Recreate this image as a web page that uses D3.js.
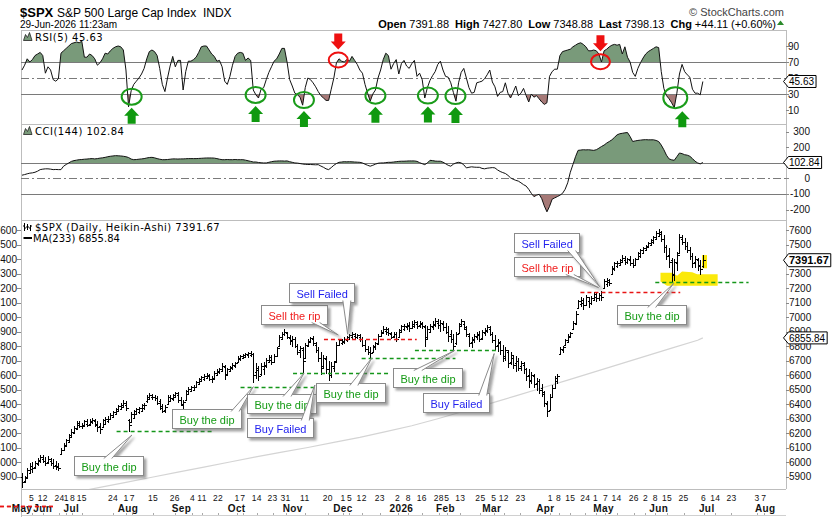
<!DOCTYPE html>
<html>
<head>
<meta charset="utf-8">
<script src="https://cdn.jsdelivr.net/npm/d3@7"></script>
<style>
  body { margin: 0; background: #fff; }
  svg { display: block; font-family: "Liberation Sans", Arial, sans-serif; }
</style>
</head>
<body>
<div id="chart"></div>
<script>
// $SPX daily Heikin-Ashi with RSI(5) and CCI(144) panels
// x is a trading-day index, 0 = first bar on the chart

// Heikin-Ashi bars, [open, high, low, close]
const priceBars = [
  [5900,5925,5820,5860],[5870,5905,5855,5895],[5890,5960,5885,5945],[5925,5990,5915,5975],[5950,6000,5925,5960],[5965,6010,5950,5995],[5985,6030,5975,6015],[6005,6050,5995,6035],[6020,6045,5990,6010],[6010,6035,5975,5995],
  [6000,6040,5985,6020],[6010,6030,5970,5990],[5995,6020,5955,5975],[5980,6005,5945,5965],[5970,5990,5940,5960],[6055,6095,6050,6085],[6085,6130,6080,6120],[6110,6160,6105,6150],[6140,6195,6135,6185],[6170,6225,6165,6210],
  [6200,6245,6190,6235],[6225,6285,6220,6270],[6255,6280,6235,6250],[6250,6270,6225,6255],[6250,6290,6245,6280],[6265,6295,6240,6255],[6260,6300,6250,6285],[6275,6305,6260,6290],[6280,6300,6240,6255],[6265,6285,6210,6240],
  [6250,6270,6195,6225],[6240,6300,6235,6290],[6265,6310,6255,6300],[6285,6320,6270,6295],[6295,6335,6290,6325],[6310,6355,6305,6345],[6330,6375,6325,6365],[6350,6395,6345,6385],[6365,6410,6360,6395],[6380,6425,6375,6410],
  [6395,6420,6355,6370],[6290,6300,6210,6255],[6275,6345,6270,6330],[6305,6360,6300,6350],[6330,6375,6325,6365],[6345,6380,6330,6370],[6355,6400,6350,6390],[6370,6405,6360,6395],[6420,6460,6410,6450],[6435,6475,6430,6465],
  [6450,6470,6425,6445],[6445,6465,6420,6440],[6440,6455,6390,6410],[6420,6435,6360,6375],[6385,6400,6335,6355],[6360,6395,6340,6380],[6400,6460,6395,6450],[6420,6465,6415,6440],[6435,6470,6420,6460],[6450,6485,6440,6475],
  [6460,6480,6410,6430],[6430,6445,6385,6400],[6395,6425,6360,6415],[6430,6500,6425,6490],[6470,6515,6465,6505],[6490,6525,6480,6515],[6500,6530,6490,6520],[6515,6560,6510,6550],[6540,6580,6535,6570],[6560,6595,6550,6585],
  [6570,6605,6560,6595],[6580,6615,6570,6600],[6590,6610,6560,6575],[6575,6590,6545,6570],[6580,6625,6575,6615],[6600,6640,6595,6630],[6620,6650,6610,6640],[6630,6680,6625,6665],[6655,6670,6565,6600],[6610,6650,6600,6640],
  [6630,6665,6620,6655],[6645,6680,6635,6670],[6660,6690,6650,6680],[6690,6730,6685,6720],[6710,6740,6700,6730],[6720,6745,6710,6735],[6725,6755,6715,6745],[6735,6760,6720,6750],[6740,6765,6725,6745],[6745,6755,6545,6600],
  [6620,6680,6570,6650],[6635,6665,6560,6590],[6610,6680,6590,6665],[6640,6690,6600,6670],[6660,6720,6650,6705],[6690,6740,6680,6725],[6705,6735,6670,6690],[6690,6745,6680,6730],[6730,6795,6725,6785],[6800,6875,6795,6860],
  [6850,6900,6840,6885],[6880,6915,6870,6900],[6890,6900,6845,6860],[6855,6875,6810,6835],[6840,6870,6795,6850],[6845,6860,6785,6800],[6800,6815,6740,6760],[6770,6800,6720,6785],[6770,6790,6615,6700],[6720,6820,6710,6810],
  [6800,6850,6795,6835],[6830,6865,6820,6855],[6850,6870,6800,6820],[6810,6830,6750,6770],[6770,6790,6690,6720],[6720,6760,6600,6650],[6660,6740,6640,6720],[6710,6730,6610,6640],[6640,6700,6560,6600],[6600,6690,6580,6660],
  [6650,6700,6620,6690],[6700,6830,6695,6810],[6810,6850,6800,6840],[6820,6850,6805,6835],[6830,6860,6815,6845],[6840,6870,6825,6860],[6850,6885,6840,6875],[6865,6895,6845,6880],[6870,6890,6840,6865],[6860,6885,6845,6875],
  [6865,6880,6830,6850],[6850,6860,6790,6810],[6810,6840,6760,6780],[6780,6800,6740,6760],[6760,6790,6715,6750],[6760,6810,6755,6800],[6790,6830,6775,6820],[6815,6880,6810,6870],[6870,6910,6860,6900],[6890,6935,6880,6920],
  [6905,6930,6875,6915],[6900,6925,6870,6890],[6885,6900,6845,6865],[6870,6895,6855,6885],[6880,6900,6830,6850],[6860,6920,6855,6910],[6900,6945,6895,6935],[6920,6950,6905,6940],[6930,6960,6910,6945],[6935,6965,6900,6925],
  [6925,6970,6915,6955],[6940,6980,6925,6965],[6950,6975,6920,6940],[6945,6970,6925,6960],[6950,6965,6920,6935],[6930,6945,6795,6850],[6860,6935,6850,6920],[6900,6950,6890,6940],[6930,6970,6910,6955],[6945,6990,6930,6975],
  [6960,6985,6920,6945],[6945,6980,6900,6960],[6950,6975,6905,6930],[6930,6960,6880,6900],[6900,6940,6830,6870],[6880,6910,6820,6850],[6850,6880,6775,6800],[6820,6900,6810,6880],[6890,6960,6885,6950],[6940,6985,6930,6970],
  [6955,6975,6910,6930],[6920,6940,6860,6880],[6870,6890,6790,6820],[6830,6860,6785,6845],[6840,6880,6820,6870],[6860,6895,6840,6880],[6875,6905,6830,6850],[6855,6910,6840,6895],[6890,6925,6870,6910],[6905,6945,6890,6930],
  [6915,6935,6870,6880],[6880,6895,6820,6840],[6840,6875,6770,6800],[6810,6850,6760,6830],[6820,6835,6740,6770],[6775,6805,6690,6720],[6730,6790,6700,6770],[6760,6775,6650,6680],[6690,6760,6670,6740],[6720,6740,6640,6670],
  [6680,6730,6620,6700],[6700,6720,6630,6650],[6660,6700,6630,6680],[6670,6690,6610,6640],[6640,6650,6560,6590],[6600,6640,6510,6560],[6565,6620,6540,6600],[6590,6610,6510,6540],[6545,6580,6490,6560],[6560,6570,6470,6500],
  [6510,6540,6450,6480],[6470,6490,6380,6410],[6400,6420,6310,6350],[6360,6470,6350,6450],[6450,6530,6440,6510],[6510,6590,6505,6580],[6560,6605,6540,6595],[6745,6790,6740,6780],[6770,6800,6755,6790],[6805,6850,6800,6840],
  [6830,6880,6825,6870],[6860,6900,6855,6890],[6920,6970,6915,6960],[6950,7040,6945,7020],[7060,7120,7055,7110],[7090,7140,7070,7120],[7100,7130,7050,7080],[7085,7150,7080,7140],[7110,7135,7060,7100],[7100,7145,7085,7130],
  [7120,7175,7110,7160],[7140,7170,7105,7130],[7130,7165,7110,7155],[7150,7180,7110,7140],[7200,7265,7195,7250],[7230,7270,7210,7255],[7240,7265,7215,7235],[7300,7350,7295,7340],[7330,7380,7320,7370],[7355,7385,7340,7375],
  [7360,7400,7350,7390],[7380,7425,7370,7410],[7395,7420,7360,7380],[7380,7410,7365,7400],[7390,7420,7350,7370],[7370,7400,7335,7360],[7360,7410,7355,7400],[7400,7450,7395,7440],[7420,7470,7410,7460],[7440,7485,7435,7475],
  [7465,7500,7455,7490],[7480,7520,7475,7510],[7500,7540,7495,7530],[7515,7560,7505,7550],[7540,7590,7530,7580],[7560,7610,7550,7585],[7575,7595,7520,7540],[7540,7565,7440,7480],[7480,7500,7390,7420],[7430,7475,7340,7380],
  [7390,7410,7232,7290],[7300,7400,7250,7380],[7370,7450,7315,7430],[7440,7570,7435,7550],[7540,7565,7500,7520],[7520,7545,7465,7490],[7490,7520,7440,7460],[7460,7480,7390,7420],[7420,7440,7335,7370],[7380,7420,7340,7400],
  [7390,7410,7320,7350],[7360,7390,7290,7330],[7355,7427,7340,7392]
];

// MA(233), read every 10 trading days
const maIdx = [20,30,40,50,60,70,80,90,100,110,120,130,140,150,160,170,180,190,200,210,220,230,240,250,260,262];
const maVal = [5790,5825,5860,5895,5930,5965,6000,6035,6068,6100,6135,6170,6210,6250,6298,6350,6403,6456,6510,6565,6620,6675,6730,6785,6840,6855.84];

const rsi5 = [
  60,66,74,70,73,78,80,82,78,56, 64,60,48,46,49,81,84,87,90,93,
  94,95,94,96,76,76,80,78,74,66, 69,74,81,80,84,87,89,90,89,85,
  60,14,34,42,46,50,55,62,74,83, 85,83,78,62,42,33,50,65,77,64,
  72,72,35,58,71,71,73,76,82,89, 90,90,85,80,77,71,72,64,46,42,
  52,66,77,81,82,81,72,75,72,35, 29,25,36,38,48,57,64,71,74,80,
  87,87,70,48,40,31,29,26,16,38, 50,48,44,39,33,28,25,22,22,36,
  50,69,74,71,70,73,71,77,72,67, 60,56,42,31,21,30,35,50,60,73,
  81,78,61,68,73,55,68,72,65,62, 68,72,52,56,48,25,38,47,53,58,
  67,71,60,52,51,44,32,21,44,57, 62,50,38,31,32,44,45,46,49,54,
  60,45,39,27,32,33,44,31,25,32, 40,28,31,37,28,20,30,26,28,24,
  20,17,19,52,58,61,61,78,83,84, 85,86,89,91,93,94,92,89,84,84,
  85,84,80,70,84,86,89,91,92,91, 92,80,89,76,70,57,52,62,69,75,
  80,83,85,87,89,88,58,37,28,24, 19,13,31,55,67,58,54,51,36,31,
  31,29,45.63
];

const cci144 = [
  21,25,30,34,36,40,47,57,60,62,62,60,57,58,57,57,
  79,90,100,110,115,118,121,
  122,124,125,127,128,126,128,131,133,136,140,143,145,147,
  146,145,143,140,135,125,121,
  122,124,126,128,132,135,136,133,128,124,121,121,
  122,124,126,126,125,126,126,127,128,128,128,128,
  129,130,131,132,132,132,131,128,124,121,121,
  122,121,121,122,121,121,121,118,114,110,106,106,
  103,101,100,100,104,108,111,112,113,113,112,113,
  108,104,100,99,96,93,91,90,90,89,88,89,
  80,72,62,57,70,85,96,104,
  106,108,107,108,107,106,105,104,100,92,85,79,
  85,92,98,100,100,102,104,104,106,108,110,111,111,112,113,113,
  113,110,102,95,89,100,
  117,115,112,111,111,105,95,85,79,
  92,100,104,100,88,68,72,75,73,72,
  72,65,62,66,68,70,68,55,45,38,
  32,20,4,-5,-12,-17,-28,-40,-49,-70,-96,
  -117,-108,-102,-130,-177,-215,-180,-134,-125,-117,-108,-96,-70,-28,
  40,89,140,181,183,185,184,185,183,181,185,195,
  206,215,228,238,249,265,281,288,291,294,296,270,238,
  242,245,247,249,250,249,249,249,245,238,
  215,185,150,126,120,117,140,164,160,153,150,143,128,111,100,94,102.84
];

// x axis labels (trading-day index, text)
const dayTickIdx = [3.7,8,14.4,17,19.4,23,35,40,42.4,50.4,58.8,65.6,69.3,75.4,82.7,85,90.3,96.4,101.4,108.8,
  117.7,123.5,126,130.7,137.7,144.5,148.6,153.8,160.4,163.5,168.7,176.4,181.5,185.4,191.8,203.3,206.5,211,216.8,220.7,
  224.5,228.8,235.4,239.9,243.7,248.2,254.6,262.3,266.8,273,282.8,285.4];
const dayTickLbl = ["5","12","24","1","8","15","24","1","7","15","26","4","11","22","1","7","14","23","31","11",
  "20","1","5","12","23","2","8","16","28","5","13","25","5","12","23","1","8","15","24","1",
  "7","14","26","2","8","15","25","6","14","23","3","7"];
const monthIdx = [0,8,19,40.8,61.4,82.6,104.2,123.5,146,163,180.8,201.4,223.8,245,263.5,286];
const monthLbl = ["May","Jun","Jul","Aug","Sep","Oct","Nov","Dec","2026","Feb","Mar","Apr","May","Jun","Jul","Aug"];

const priceTicks = d3.range(5900, 7601, 100);
const rsiTicks = [90, 70, 50, 30, 10];
const cciTicks = [300, 200, 100, 0, -100, -200];

// RSI markers [index, rsi]
const buyMarks = [[42.2,26.6],[89.9,28.8],[108.5,22.5],[136,27.9],[156.2,28],[166.8,27.5],[251.4,25.4]];
const sellMarks = [[121.7,72.5],[222.6,70.4]];

// support / resistance dashes [fromIdx, toIdx, price, kind]
const levels = [
  [36.4,73,6214,"buy"],[84.1,113.3,6519,"buy"],[104.3,140.9,6612,"buy"],[130.7,166.8,6715,"buy"],
  [151.2,183.5,6772,"buy"],[116.2,151.9,6848,"sell"],[214.9,253.3,7170,"sell"],[243.7,279.6,7239,"buy"],
  [-8.5,12.7,5699,"sell"]
];

// callouts: box corner (i,p), wedge base index bi, tip (ti,tp)
const notes = [
  {t:"Buy the dip", k:"buy", i:20, p:6041, bi:33, ti:42.3, tp:6186},
  {t:"Buy the dip", k:"buy", i:57.8, p:6363, bi:82, ti:89, tp:6519},
  {t:"Buy the dip", k:"buy", i:86.4, p:6467, bi:102, ti:108.5, tp:6612},
  {t:"Buy Failed", k:"fail", i:86.4, p:6305, bi:109, ti:112.7, tp:6531},
  {t:"Buy the dip", k:"buy", i:113.3, p:6547, bi:127.7, ti:134.5, tp:6715},
  {t:"Sell the rip", k:"sell", i:91.9, p:7083, bi:113, ti:121.7, tp:6876},
  {t:"Sell Failed", k:"fail", i:102.6, p:7237, bi:125, ti:125.3, tp:6881},
  {t:"Buy the dip", k:"buy", i:142.6, p:6650, bi:152.3, ti:166.5, tp:6769},
  {t:"Buy Failed", k:"fail", i:154.3, p:6474, bi:177.3, ti:181.7, tp:6748},
  {t:"Sell the rip", k:"sell", i:189.5, p:7412, bi:210.8, ti:221.9, tp:7202},
  {t:"Sell Failed", k:"fail", i:189.5, p:7581, bi:211.5, ti:222.3, tp:7209},
  {t:"Buy the dip", k:"buy", i:229, p:7083, bi:242.3, ti:250.8, tp:7232}
];

// yellow highlight around the recent low, [index, price]
const hiliteBig = [[245.7,7306],[250.2,7306],[252.1,7285],[254,7313],[257.9,7308],[259.8,7295],[267.7,7295],[267.7,7216],[248.2,7216],[245.7,7244]];
const hiliteLast = [[261.7,7427],[263.6,7427],[263.6,7336],[261.7,7336]];

const colors = {buy: "#149a14", sell: "#f01c1c", fail: "#2323ee"};

// ---------------------------------------------------------------
const W = 834, H = 517;
const L = 21, R = 786;
const rsiTop = 30, cciTop = 124, pxTop = 220, pxBot = 489;

const x = d3.scaleLinear().domain([0, 294]).range([22, 786]);
const yRsi = d3.scaleLinear().domain([0, 100]).range([118, 38]);
const yCci = d3.scaleLinear().domain([-200, 300]).range([209.5, 131.9]);
const yPx = d3.scaleLinear().domain([5900, 7600]).range([476.5, 230]);

const svg = d3.select("#chart").append("svg")
    .attr("width", W).attr("height", H);

const defs = svg.append("defs");
defs.append("filter").attr("id", "shadow")
    .attr("x", "-20%").attr("y", "-20%").attr("width", "150%").attr("height", "160%")
  .append("feDropShadow")
    .attr("dx", 2.5).attr("dy", 2.5).attr("stdDeviation", 1)
    .attr("flood-color", "#666").attr("flood-opacity", 0.6);

function clip(id, y0, y1) {
    defs.append("clipPath").attr("id", id).append("rect")
        .attr("x", L).attr("y", y0).attr("width", R - L).attr("height", y1 - y0);
}
clip("cRsi", rsiTop, cciTop);
clip("cRsiHi", rsiTop, yRsi(70));
clip("cRsiLo", yRsi(30), cciTop);
clip("cCci", cciTop, pxTop);
clip("cCciHi", cciTop, yCci(100));
clip("cCciLo", yCci(-100), pxTop);
clip("cPx", pxTop, pxBot);

// ---- header
svg.append("text").attr("x", 20).attr("y", 16.5)
    .attr("font-size", 13).attr("font-weight", "bold").text("$SPX");
svg.append("text").attr("x", 57).attr("y", 16.5)
    .attr("font-size", 12).text("S&P 500 Large Cap Index  INDX").style("white-space", "pre");
svg.append("text").attr("x", 20).attr("y", 27.5)
    .attr("font-size", 10).text("29-Jun-2026 11:23am");
svg.append("text").attr("x", 784).attr("y", 15.5).attr("text-anchor", "end")
    .attr("font-size", 11).attr("fill", "#444").text("\u00A9 StockCharts.com");

const quote = [["Open","7391.88"],["High","7427.80"],["Low","7348.88"],["Last","7398.13"],["Chg","+44.11 (+0.60%)"]];
const qt = svg.append("text").attr("x", 776).attr("y", 27.5).attr("text-anchor", "end").attr("font-size", 11);
quote.forEach((q, k) => {
    qt.append("tspan").attr("font-weight", "bold").attr("dx", k ? 6 : 0).text(q[0]);
    qt.append("tspan").attr("dx", 3).text(q[1]);
});
svg.append("path").attr("d", "M780.5,20.5 L784,25 L777,25 Z").attr("fill", "#2a8a2a");

// ---- panel frames
const frame = svg.append("g").attr("stroke", "#bdbdbd").attr("fill", "none").attr("shape-rendering", "crispEdges");
[rsiTop, cciTop, pxTop, pxBot].forEach(y => {
    frame.append("line").attr("x1", L).attr("x2", R).attr("y1", y + 0.5).attr("y2", y + 0.5);
});
frame.append("line").attr("x1", L).attr("x2", R).attr("y1", 515.5).attr("y2", 515.5).attr("stroke", "#d0d0d0");
frame.append("line").attr("x1", L + 0.5).attr("x2", L + 0.5).attr("y1", rsiTop).attr("y2", 517);
frame.append("line").attr("x1", R + 0.5).attr("x2", R + 0.5).attr("y1", rsiTop).attr("y2", pxBot);

// ---- helper for reference lines
function refLine(g, y, dashed) {
    g.append("line").attr("x1", L).attr("x2", R + 3)
        .attr("y1", Math.round(y) + 0.5).attr("y2", Math.round(y) + 0.5)
        .attr("stroke", "#7a7a7a").attr("stroke-width", 1)
        .attr("stroke-dasharray", dashed ? "8,3,2,3" : null)
        .attr("shape-rendering", "crispEdges");
}

// ---- RSI panel
const gR = svg.append("g");
const rsiArea = d3.area().x((d, i) => x(i)).y1(d => yRsi(d));
gR.append("path").datum(rsi5).attr("clip-path", "url(#cRsiHi)")
    .attr("d", rsiArea.y0(yRsi(70))).attr("fill", "#799a7a");
gR.append("path").datum(rsi5).attr("clip-path", "url(#cRsiLo)")
    .attr("d", rsiArea.y0(yRsi(30))).attr("fill", "#a67977");
refLine(gR, yRsi(70), false);
refLine(gR, yRsi(30), false);
refLine(gR, yRsi(50), true);
gR.append("path").datum(rsi5).attr("clip-path", "url(#cRsi)")
    .attr("d", d3.line().x((d, i) => x(i)).y(d => yRsi(d)))
    .attr("fill", "none").attr("stroke", "#111").attr("stroke-width", 1);

// ---- CCI panel
const gC = svg.append("g");
const cciArea = d3.area().x((d, i) => x(i)).y1(d => yCci(d));
gC.append("path").datum(cci144).attr("clip-path", "url(#cCciHi)")
    .attr("d", cciArea.y0(yCci(100))).attr("fill", "#799a7a");
gC.append("path").datum(cci144).attr("clip-path", "url(#cCciLo)")
    .attr("d", cciArea.y0(yCci(-100))).attr("fill", "#a67977");
refLine(gC, yCci(100), false);
refLine(gC, yCci(-100), false);
refLine(gC, yCci(0), true);
gC.append("path").datum(cci144).attr("clip-path", "url(#cCci)")
    .attr("d", d3.line().x((d, i) => x(i)).y(d => yCci(d)))
    .attr("fill", "none").attr("stroke", "#111").attr("stroke-width", 1);

// ---- price panel
const gP = svg.append("g");
const hiLine = d3.line().x(d => x(d[0])).y(d => yPx(d[1]));
gP.append("path").attr("d", hiLine(hiliteBig) + "Z").attr("fill", "#fbe90a");
gP.append("path").attr("d", hiLine(hiliteLast) + "Z").attr("fill", "#fbe90a");

gP.append("path").datum(maIdx.map((d, k) => [d, maVal[k]]))
    .attr("clip-path", "url(#cPx)")
    .attr("d", d3.line().x(d => x(d[0])).y(d => yPx(d[1])))
    .attr("fill", "none").attr("stroke", "#d4d4d4").attr("stroke-width", 1.2);

const gBars = gP.append("g").attr("clip-path", "url(#cPx)")
    .attr("stroke", "#000").attr("stroke-width", 1).attr("shape-rendering", "crispEdges");
const bar = gBars.selectAll("g").data(priceBars).join("g")
    .attr("transform", (d, i) => `translate(${Math.round(x(i)) + 0.5},0)`);
bar.append("line").attr("x1", 0).attr("x2", 0)
    .attr("y1", d => yPx(d[1])).attr("y2", d => yPx(d[2]));
bar.append("line").attr("x1", -2).attr("x2", 0)
    .attr("y1", d => Math.round(yPx(d[0])) + 0.5).attr("y2", d => Math.round(yPx(d[0])) + 0.5);
bar.append("line").attr("x1", 0).attr("x2", 2)
    .attr("y1", d => Math.round(yPx(d[3])) + 0.5).attr("y2", d => Math.round(yPx(d[3])) + 0.5);

// dashed support / resistance
svg.append("g").selectAll("line").data(levels).join("line")
    .attr("x1", d => x(d[0])).attr("x2", d => x(d[1]))
    .attr("y1", d => Math.round(yPx(d[2])) + 0.5).attr("y2", d => Math.round(yPx(d[2])) + 0.5)
    .attr("stroke", d => d[3] === "buy" ? "#14961a" : "#e81414")
    .attr("stroke-width", 1.3).attr("stroke-dasharray", "4,3");

// ---- callouts
const gN = svg.append("g");
notes.forEach(n => {
    const g = gN.append("g").attr("filter", "url(#shadow)");
    const bx = Math.round(x(n.i)) + 0.5, by = Math.round(yPx(n.p)) + 0.5;
    const rect = g.append("rect");
    const txt = g.append("text").attr("x", bx + 7).attr("y", by + 14)
        .attr("font-size", 11).attr("fill", colors[n.k]).text(n.t);
    const w = Math.round(txt.node().getComputedTextLength()) + 14, h = 19;
    rect.attr("x", bx).attr("y", by).attr("width", w).attr("height", h)
        .attr("fill", "#fff").attr("stroke", "#8a8a8a");
    const tx = x(n.ti), ty = yPx(n.tp);
    const cx = Math.max(bx + 6, Math.min(bx + w - 6, x(n.bi)));
    const ey = ty < by ? by + 2 : by + h - 2;
    g.insert("path", "text")
        .attr("d", `M${cx - 4},${ey} L${tx},${ty} L${cx + 4},${ey}`)
        .attr("fill", "#fff").attr("stroke", "#8a8a8a");
});

// ---- RSI circles and arrows
const gM = svg.append("g").attr("fill", "none");
buyMarks.forEach((m, k) => {
    const big = k === buyMarks.length - 1;
    const cx = x(m[0]), cy = yRsi(m[1]);
    const rx = big ? 12 : 10, ry = big ? 10.5 : 8;
    gM.append("ellipse").attr("cx", cx).attr("cy", cy).attr("rx", rx).attr("ry", ry)
        .attr("stroke", "#1a9c1a").attr("stroke-width", 2);
    const ax = cx + (big ? 7 : 0), t = cy + ry + 3;
    gM.append("path").attr("fill", "#0f990f")
        .attr("d", `M${ax},${t} L${ax + 7.5},${t + 8} L${ax + 4},${t + 8} L${ax + 4},${t + 16} L${ax - 4},${t + 16} L${ax - 4},${t + 8} L${ax - 7.5},${t + 8} Z`);
});
sellMarks.forEach(m => {
    const cx = x(m[0]), cy = yRsi(m[1]);
    gM.append("ellipse").attr("cx", cx).attr("cy", cy).attr("rx", 9.5).attr("ry", 7.5)
        .attr("stroke", "#ee1010").attr("stroke-width", 2);
    const b = cy - 7.5 - 3;
    gM.append("path").attr("fill", "#ee1010")
        .attr("d", `M${cx},${b} L${cx + 7.5},${b - 8} L${cx + 4},${b - 8} L${cx + 4},${b - 16} L${cx - 4},${b - 16} L${cx - 4},${b - 8} L${cx - 7.5},${b - 8} Z`);
});

// ---- legends
const leg = svg.append("g").attr("font-family", "'DejaVu Sans', Verdana, sans-serif")
    .attr("font-size", 10).attr("letter-spacing", 0.5);
function mountain(y) {
    leg.append("path").attr("d", `M23.5,${y} L25.5,${y - 6} L27.5,${y - 3} L29.5,${y - 8} L32,${y} Z`)
        .attr("fill", "#799a7a").attr("stroke", "#222").attr("stroke-width", 0.8);
}
mountain(40.5);
leg.append("text").attr("x", 35).attr("y", 40.5).text("RSI(5) 45.63");
mountain(134.5);
leg.append("text").attr("x", 35).attr("y", 134.5).text("CCI(144) 102.84");
const ic = leg.append("g").attr("stroke", "#000").attr("stroke-width", 1);
[24.5, 27.5, 30.5].forEach((xx, k) => {
    ic.append("line").attr("x1", xx).attr("x2", xx).attr("y1", 223 + k).attr("y2", 231 - (k % 2));
    ic.append("line").attr("x1", xx - 1.5).attr("x2", xx).attr("y1", 226 + k).attr("y2", 226 + k);
    ic.append("line").attr("x1", xx).attr("x2", xx + 1.5).attr("y1", 228 - k).attr("y2", 228 - k);
});
leg.append("text").attr("x", 35).attr("y", 230.5).text("$SPX (Daily, Heikin-Ashi) 7391.67");
leg.append("line").attr("x1", 23.5).attr("x2", 32).attr("y1", 238).attr("y2", 238)
    .attr("stroke", "#000").attr("stroke-width", 2);
leg.append("text").attr("x", 33).attr("y", 241.5).attr("letter-spacing", 0).text("MA(233) 6855.84");

// ---- right axes
const ax = svg.append("g").attr("font-size", 10).attr("fill", "#111");
function rTick(y) {
    ax.append("line").attr("x1", R).attr("x2", R + 3)
        .attr("y1", Math.round(y) + 0.5).attr("y2", Math.round(y) + 0.5)
        .attr("stroke", "#888").attr("shape-rendering", "crispEdges");
}
rsiTicks.forEach(v => {
    rTick(yRsi(v));
    ax.append("text").attr("x", 788).attr("y", yRsi(v) + 3.5).text(v);
});
cciTicks.forEach(v => {
    rTick(yCci(v));
    ax.append("text").attr("x", 810).attr("y", yCci(v) + 3.5).attr("text-anchor", "end").text(v);
});
priceTicks.forEach(v => {
    rTick(yPx(v));
    ax.append("text").attr("x", 789).attr("y", yPx(v) + 3.5).text(v);
    ax.append("line").attr("x1", 17).attr("x2", L)
        .attr("y1", Math.round(yPx(v)) + 0.5).attr("y2", Math.round(yPx(v)) + 0.5)
        .attr("stroke", "#888").attr("shape-rendering", "crispEdges");
    ax.append("text").attr("x", 17).attr("y", yPx(v) + 3.5).attr("text-anchor", "end").text(v);
});

// value tags
function tag(y, label, bold) {
    const g = svg.append("g");
    const t = g.append("text").attr("x", 789).attr("y", y + 4)
        .attr("font-size", bold ? 11 : 10).attr("font-weight", bold ? "bold" : null).text(label);
    const w = t.node().getComputedTextLength();
    const hh = bold ? 6.5 : 6;
    g.insert("path", "text")
        .attr("d", `M783.5,${y} L788.5,${y - hh} L${791 + w},${y - hh} L${791 + w},${y + hh} L788.5,${y + hh} Z`)
        .attr("fill", "#fff").attr("stroke", "#000").attr("stroke-width", 1);
}
tag(yRsi(45.63), "45.63", false);
tag(yCci(102.84), "102.84", false);
tag(yPx(7391.67), "7391.67", true);
tag(yPx(6855.84), "6855.84", false);

// ---- x axis labels
const xl = svg.append("g").attr("text-anchor", "middle").attr("fill", "#111");
dayTickIdx.forEach((d, k) => {
    xl.append("text").attr("x", x(d)).attr("y", 501).attr("font-size", 8.5)
        .attr("letter-spacing", 0.3).text(dayTickLbl[k]);
    xl.append("line").attr("x1", Math.round(x(d)) + 0.5).attr("x2", Math.round(x(d)) + 0.5)
        .attr("y1", 513).attr("y2", 515).attr("stroke", "#aaa");
});
monthIdx.forEach((d, k) => {
    xl.append("text").attr("x", x(d)).attr("y", 512).attr("font-size", 10)
        .attr("letter-spacing", 0.4).attr("font-weight", "bold").text(monthLbl[k]);
});
// stray red dash from the annotation tool sits over the first labels
svg.append("line").attr("x1", x(levels[8][0])).attr("x2", x(levels[8][1]))
    .attr("y1", Math.round(yPx(levels[8][2])) + 0.5).attr("y2", Math.round(yPx(levels[8][2])) + 0.5)
    .attr("stroke", "#e81414").attr("stroke-width", 1.3).attr("stroke-dasharray", "4,3");
</script>
</body>
</html>
